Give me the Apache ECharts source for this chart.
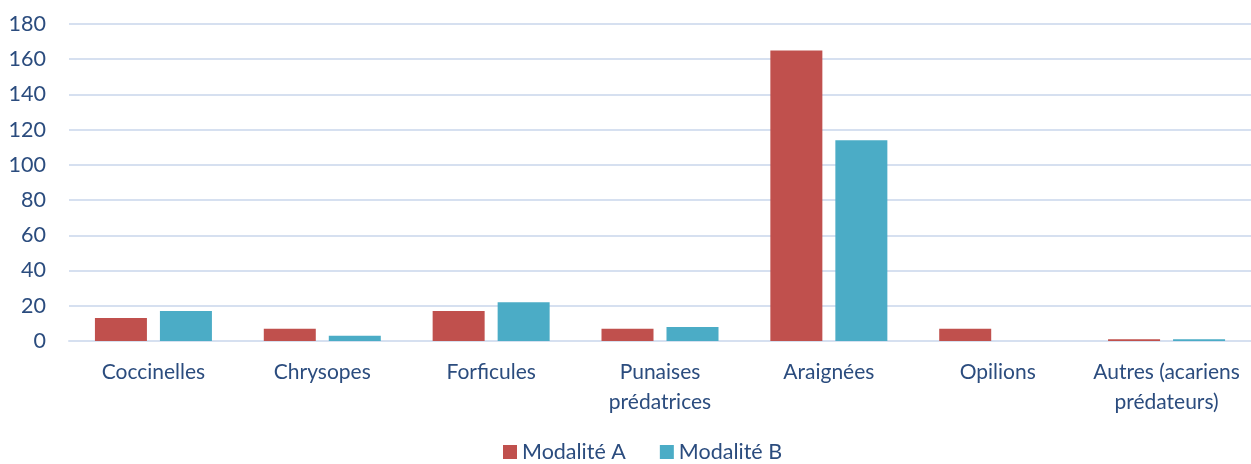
<!DOCTYPE html>
<html><head><meta charset="utf-8">
<script src="https://cdn.jsdelivr.net/npm/echarts@6/dist/echarts.min.js"></script>
<style>html,body{margin:0;padding:0;background:#fff}#c{width:1251px;height:464px}</style>
</head><body><div id="c"></div>
<script>
const categories = ["Coccinelles", "Chrysopes", "Forficules", "Punaises\nprédatrices", "Araignées", "Opilions", "Autres (acariens\nprédateurs)"];
const seriesNames = ["Modalité A", "Modalité B"];
const valuesA = [13, 7, 17, 7, 165, 7, 1];
const valuesB = [17, 3, 22, 8, 114, 0, 1];
const yTicks = [0, 20, 40, 60, 80, 100, 120, 140, 160, 180];

const textColor = '#2B4C7E';
const font = 'Lato';
const chart = echarts.init(document.getElementById('c'), null, {renderer: 'canvas'});
chart.setOption({
  animation: false,
  grid: {left: 69, right: -4.5, top: 24, bottom: 123, containLabel: false},
  legend: {
    top: 436, left: 498, padding: 5, itemWidth: 14, itemHeight: 14, itemGap: 34,
    icon: 'rect',
    textStyle: {color: textColor, fontFamily: font, fontSize: 21.5},
    data: seriesNames
  },
  xAxis: {
    type: 'category', data: categories,
    axisLine: {show: true, lineStyle: {color: '#D6E0F0', width: 2}},
    axisTick: {show: false},
    axisLabel: {color: textColor, fontFamily: font, fontSize: 21, lineHeight: 30, margin: 16, interval: 0}
  },
  yAxis: {
    type: 'value', min: yTicks[0], max: yTicks[yTicks.length - 1], interval: 20,
    axisLine: {show: false}, axisTick: {show: false},
    splitLine: {lineStyle: {color: '#D6E0F0', width: 2}},
    axisLabel: {color: textColor, fontFamily: font, fontSize: 21.5, margin: 23}
  },
  series: [
    {name: seriesNames[0], type: 'bar', data: valuesA, barWidth: 52, barGap: '25%',
     itemStyle: {color: '#C0504D'}},
    {name: seriesNames[1], type: 'bar', data: valuesB, barWidth: 52, barGap: '25%',
     itemStyle: {color: '#4BACC6'}}
  ]
});
</script></body></html>
